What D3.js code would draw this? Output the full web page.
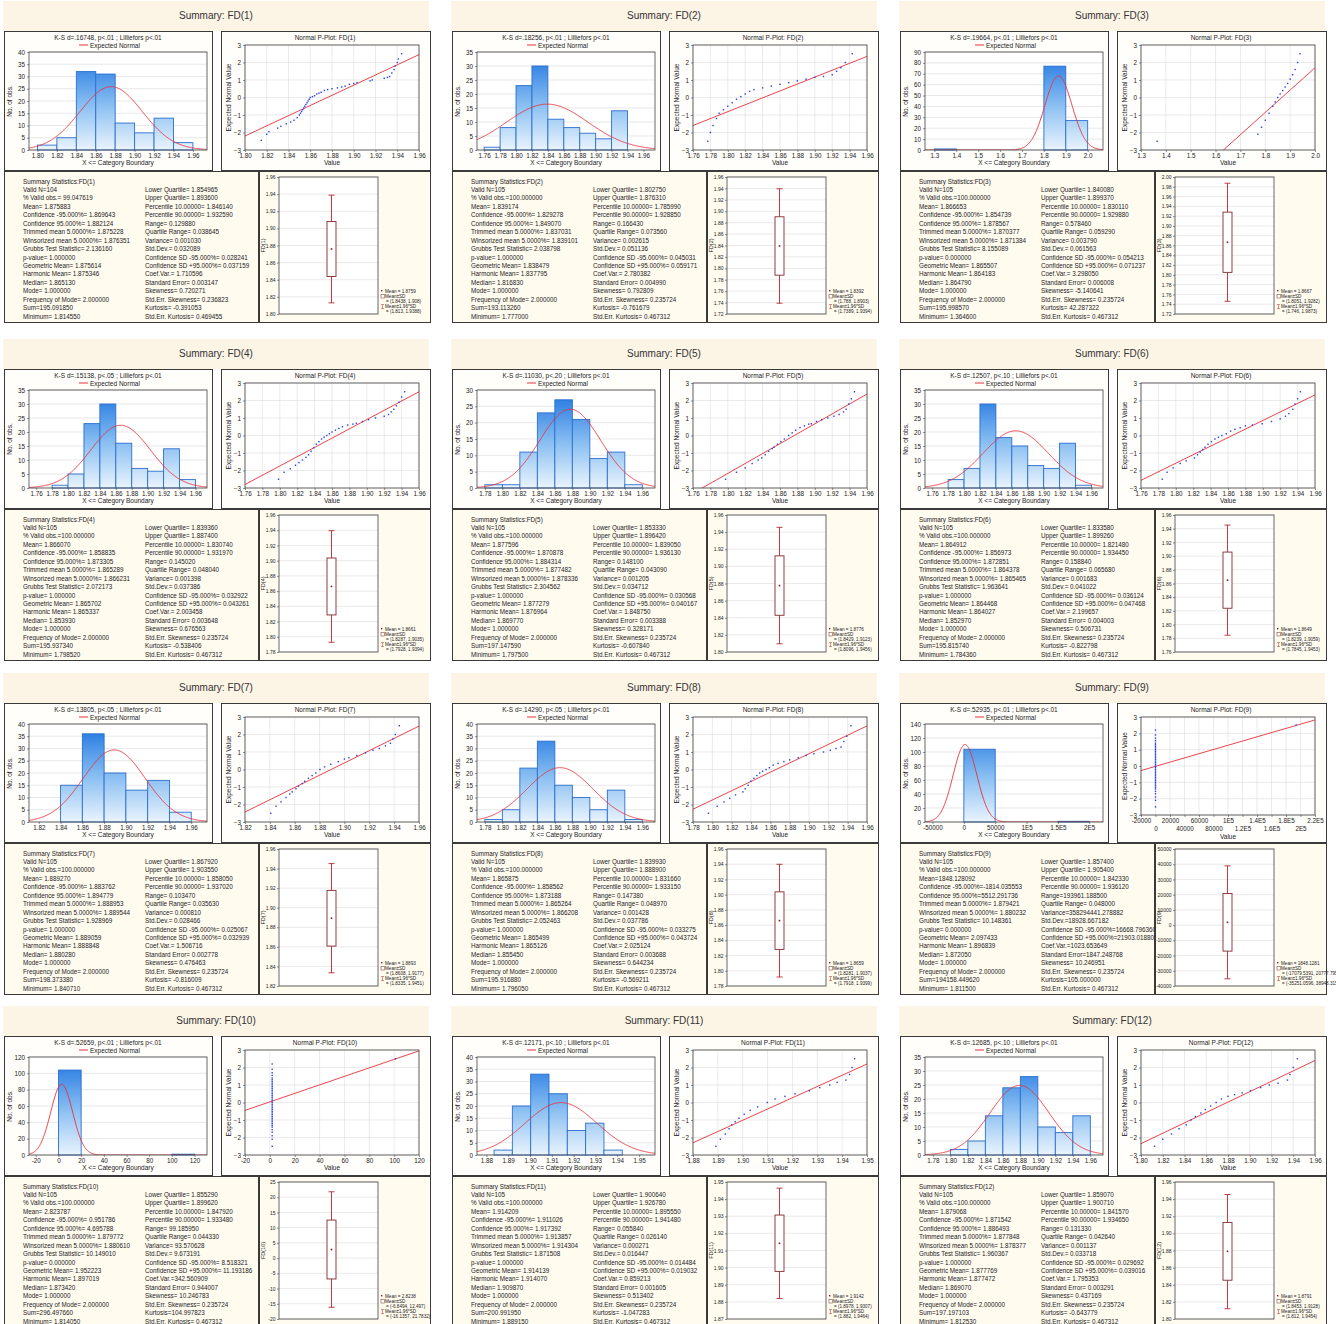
<!DOCTYPE html>
<html>
<head>
<meta charset="utf-8">
<script src="https://cdn.jsdelivr.net/npm/d3@7"></script>
<style>
body { margin: 0; background: #fff; }
svg { display: block; font-family: "Liberation Sans", Arial, sans-serif; }
.axis text { font-size: 6.3px; fill: #222; }
.axis line { stroke: #444; stroke-width: 0.6; }
.axis path { display: none; }
</style>
</head>
<body>
<svg id="chart" width="1336" height="1324"></svg>
<script>
// ---- data ----
const panelNames = ['FD(1)', 'FD(2)', 'FD(3)', 'FD(4)', 'FD(5)', 'FD(6)', 'FD(7)', 'FD(8)', 'FD(9)', 'FD(10)', 'FD(11)', 'FD(12)'];

const ksText = [
	'K-S d=.16748, p<.01 ; Lilliefors p<.01', 'K-S d=.18256, p<.01 ; Lilliefors p<.01', 'K-S d=.19664, p<.01 ; Lilliefors p<.01',
	'K-S d=.15138, p<.05 ; Lilliefors p<.01', 'K-S d=.11030, p<.20 ; Lilliefors p<.01', 'K-S d=.12507, p<.10 ; Lilliefors p<.01',
	'K-S d=.13805, p<.05 ; Lilliefors p<.01', 'K-S d=.14290, p<.05 ; Lilliefors p<.01', 'K-S d=.52935, p<.01 ; Lilliefors p<.01',
	'K-S d=.52659, p<.01 ; Lilliefors p<.01', 'K-S d=.12171, p<.10 ; Lilliefors p<.01', 'K-S d=.12685, p<.10 ; Lilliefors p<.01'
];

const dec2a = ['1.80', '1.82', '1.84', '1.86', '1.88', '1.90', '1.92', '1.94', '1.96'];
const dec2b = ['1.76', '1.78'].concat(dec2a);
const dec2c = ['1.78'].concat(dec2a);

const histXTicks = [
	dec2a, dec2b, ['1.3', '1.4', '1.5', '1.6', '1.7', '1.8', '1.9', '2.0'],
	dec2b, dec2c, dec2b,
	['1.82', '1.84', '1.86', '1.88', '1.90', '1.92', '1.94', '1.96'], dec2c, ['-50000', '0', '50000', '1E5', '1.5E5', '2E5'],
	['-20', '0', '20', '40', '60', '80', '100', '120'], ['1.88', '1.89', '1.90', '1.91', '1.92', '1.93', '1.94', '1.95'], dec2c
];
const histDomain = [
	[1.7913, 1.9745], [1.751, 1.9745], [1.257, 2.07],
	[1.751, 1.9745], [1.771, 1.9745], [1.751, 1.9745],
	[1.811, 1.9745], [1.771, 1.9745], [-62000, 222000],
	[-26, 131], [1.8757, 1.9573], [1.771, 1.9745]
];
const histYMax = [40, 35, 90, 35, 30, 35, 40, 40, 140, 120, 40, 35];
const histYStep = [5, 5, 10, 5, 5, 5, 5, 5, 20, 20, 5, 5];
const binStart = [1.80, 1.76, 1.3, 1.78, 1.78, 1.78, 1.84, 1.78, 0, 0, 1.8835, 1.80];
const binWidth = [0.02, 0.02, 0.1, 0.02, 0.02, 0.02, 0.02, 0.02, 50000, 20, 0.0084, 0.02];
const binCounts = [
	[2, 5, 32, 31, 11, 7, 13, 3],
	[1, 8, 23, 30, 11, 8, 6, 4, 14],
	[1, 0, 0, 0, 0, 77, 27],
	[1, 5, 23, 30, 16, 7, 6, 14, 3],
	[1, 1, 11, 23, 27, 21, 9, 11, 1],
	[3, 7, 30, 18, 15, 8, 7, 16, 1],
	[15, 36, 20, 13, 17, 4],
	[1, 5, 22, 33, 15, 10, 5, 13, 1],
	[104, 0, 0, 1],
	[104, 0, 0, 0, 0, 1],
	[2, 20, 33, 25, 10, 13, 2],
	[2, 5, 14, 24, 28, 10, 8, 14]
];

const ppXTicks = [
	dec2a, dec2b, ['1.3', '1.4', '1.5', '1.6', '1.7', '1.8', '1.9', '2.0'],
	dec2b, dec2b, dec2b,
	['1.82', '1.84', '1.86', '1.88', '1.90', '1.92', '1.94', '1.96'], dec2c,
	['-20000', '0', '20000', '40000', '60000', '80000', '1E5', '1.2E5', '1.4E5', '1.6E5', '1.8E5', '2E5', '2.2E5'],
	['-20', '0', '20', '40', '60', '80', '100', '120'], ['1.88', '1.89', '1.90', '1.91', '1.92', '1.93', '1.94', '1.95'], dec2a
];
const ppLine = [
	[1.80, -2.2, 1.96, 2.45], [1.76, -1.6, 1.96, 2.35], [1.60, -3.4, 2.0, 1.7],
	[1.76, -2.8, 1.96, 2.5], [1.76, -3.3, 1.96, 2.37], [1.76, -2.56, 1.96, 2.32],
	[1.82, -2.43, 1.96, 2.48], [1.78, -2.27, 1.96, 2.49], [-20000, -0.28, 220000, 2.82],
	[-20, -0.45, 120, 2.95], [1.88, -2.3, 1.95, 2.2], [1.80, -2.35, 1.96, 2.4]
];
const clusterZ = [-2.5, -2.1, -1.9, -1.7, -1.55, -1.4, -1.3, -1.2, -1.1, -1.0, -0.9, -0.8, -0.7, -0.6, -0.5, -0.4, -0.3, -0.2, -0.1, 0,
	0.1, 0.2, 0.3, 0.4, 0.5, 0.6, 0.7, 0.8, 0.9, 1.0, 1.1, 1.2, 1.3, 1.4, 1.55, 1.7, 1.9, 2.2];
const ppPoints = [
	[[1.815, -2.45], [1.82, -2.1], [1.822, -1.95], [1.83, -1.75], [1.833, -1.65], [1.838, -1.5], [1.842, -1.4], [1.845, -1.3], [1.848, -1.15], [1.85, -1.0], [1.851, -0.9], [1.852, -0.8], [1.853, -0.7], [1.854, -0.6], [1.855, -0.5], [1.856, -0.4], [1.857, -0.3], [1.858, -0.2], [1.859, -0.1], [1.86, 0], [1.862, 0.05], [1.864, 0.1], [1.866, 0.2], [1.868, 0.25], [1.87, 0.3], [1.873, 0.4], [1.876, 0.45], [1.88, 0.5], [1.885, 0.55], [1.889, 0.6], [1.892, 0.65], [1.896, 0.75], [1.9, 0.8], [1.903, 0.85], [1.915, 0.95], [1.917, 1.0], [1.928, 1.1], [1.931, 1.15], [1.933, 1.2], [1.935, 1.4], [1.937, 1.6], [1.938, 1.8], [1.94, 2.0], [1.941, 2.2], [1.944, 2.5]],
	[[1.777, -2.5], [1.78, -2.0], [1.783, -1.6], [1.787, -1.2], [1.79, -0.9], [1.795, -0.7], [1.8, -0.5], [1.805, -0.3], [1.81, -0.1], [1.815, 0.05], [1.82, 0.2], [1.825, 0.35], [1.83, 0.45], [1.84, 0.55], [1.85, 0.65], [1.86, 0.75], [1.87, 0.85], [1.88, 0.95], [1.89, 1.05], [1.9, 1.15], [1.91, 1.2], [1.92, 1.3], [1.925, 1.5], [1.93, 1.7], [1.935, 2.0], [1.943, 2.5]],
	[[1.365, -2.5], [1.77, -2.1], [1.785, -1.7], [1.8, -1.3], [1.815, -0.9], [1.83, -0.5], [1.84, -0.25], [1.85, 0], [1.86, 0.2], [1.87, 0.4], [1.88, 0.6], [1.89, 0.8], [1.9, 1.05], [1.91, 1.3], [1.92, 1.6], [1.93, 2.0], [1.94, 2.5]],
	[[1.7985, -2.5], [1.805, -2.1], [1.812, -1.9], [1.818, -1.7], [1.822, -1.55], [1.826, -1.4], [1.83, -1.25], [1.833, -1.1], [1.836, -0.9], [1.839, -0.7], [1.842, -0.5], [1.845, -0.35], [1.848, -0.2], [1.851, -0.1], [1.854, 0], [1.857, 0.1], [1.86, 0.2], [1.864, 0.3], [1.868, 0.4], [1.872, 0.5], [1.878, 0.6], [1.884, 0.65], [1.888, 0.7], [1.895, 0.8], [1.902, 0.9], [1.91, 1.0], [1.92, 1.1], [1.925, 1.2], [1.928, 1.35], [1.931, 1.5], [1.934, 1.7], [1.937, 1.9], [1.94, 2.2], [1.9435, 2.5]],
	[[1.7975, -2.5], [1.81, -2.1], [1.82, -1.85], [1.828, -1.6], [1.835, -1.4], [1.839, -1.28], [1.843, -1.1], [1.847, -0.9], [1.851, -0.75], [1.853, -0.67], [1.857, -0.5], [1.861, -0.35], [1.865, -0.2], [1.87, 0], [1.874, 0.15], [1.878, 0.3], [1.883, 0.45], [1.888, 0.55], [1.893, 0.65], [1.896, 0.67], [1.902, 0.8], [1.908, 0.9], [1.915, 1.0], [1.922, 1.1], [1.928, 1.2], [1.933, 1.35], [1.936, 1.5], [1.939, 1.8], [1.942, 2.1], [1.9456, 2.5]],
	[[1.7844, -2.5], [1.79, -2.1], [1.797, -1.85], [1.805, -1.6], [1.812, -1.45], [1.8215, -1.28], [1.825, -1.1], [1.828, -0.95], [1.831, -0.8], [1.8336, -0.67], [1.837, -0.5], [1.841, -0.35], [1.845, -0.2], [1.849, -0.1], [1.853, 0], [1.858, 0.1], [1.863, 0.25], [1.868, 0.35], [1.874, 0.45], [1.88, 0.55], [1.888, 0.6], [1.8993, 0.67], [1.91, 0.8], [1.92, 0.95], [1.926, 1.1], [1.93, 1.25], [1.9345, 1.5], [1.937, 1.8], [1.94, 2.1], [1.9432, 2.5]],
	[[1.8407, -2.5], [1.845, -2.1], [1.849, -1.85], [1.853, -1.6], [1.856, -1.4], [1.858, -1.28], [1.861, -1.1], [1.863, -0.95], [1.866, -0.8], [1.868, -0.67], [1.871, -0.5], [1.874, -0.35], [1.877, -0.2], [1.8803, 0], [1.884, 0.15], [1.889, 0.3], [1.895, 0.45], [1.9, 0.6], [1.9036, 0.67], [1.91, 0.8], [1.917, 0.95], [1.923, 1.1], [1.928, 1.2], [1.933, 1.35], [1.937, 1.5], [1.939, 1.75], [1.941, 2.0], [1.9442, 2.5]],
	[[1.796, -2.5], [1.805, -2.1], [1.812, -1.85], [1.818, -1.65], [1.824, -1.45], [1.8317, -1.28], [1.834, -1.1], [1.837, -0.9], [1.8399, -0.67], [1.843, -0.5], [1.846, -0.35], [1.849, -0.2], [1.852, -0.1], [1.8555, 0], [1.859, 0.1], [1.863, 0.25], [1.868, 0.35], [1.874, 0.45], [1.88, 0.55], [1.8889, 0.67], [1.897, 0.8], [1.905, 0.9], [1.915, 1.0], [1.922, 1.1], [1.928, 1.2], [1.9332, 1.28], [1.936, 1.6], [1.939, 1.9], [1.9434, 2.5]],
	clusterZ.map(z => [1.87, z]).concat([[193963, 2.5]]),
	clusterZ.map(z => [1.87, z]).concat([[101.0, 2.5]]),
	[[1.8892, -2.5], [1.891, -2.1], [1.893, -1.8], [1.8945, -1.5], [1.8956, -1.28], [1.897, -1.1], [1.8985, -0.9], [1.9006, -0.67], [1.903, -0.45], [1.906, -0.25], [1.9099, 0], [1.913, 0.2], [1.917, 0.35], [1.921, 0.5], [1.9268, 0.67], [1.931, 0.85], [1.935, 1.0], [1.938, 1.15], [1.9415, 1.28], [1.943, 1.6], [1.944, 2.0], [1.945, 2.5]],
	[[1.8125, -2.5], [1.82, -2.1], [1.828, -1.8], [1.835, -1.5], [1.8416, -1.28], [1.846, -1.0], [1.85, -0.8], [1.855, -0.6], [1.8591, -0.4], [1.864, -0.2], [1.8691, 0], [1.874, 0.2], [1.88, 0.35], [1.886, 0.45], [1.893, 0.55], [1.9007, 0.67], [1.91, 0.85], [1.918, 1.0], [1.926, 1.1], [1.9347, 1.28], [1.937, 1.6], [1.94, 2.0], [1.9438, 2.5]]
];

const boxYTicks = [
	['1.80', '1.82', '1.84', '1.86', '1.88', '1.90', '1.92', '1.94', '1.96'],
	['1.72', '1.74', '1.76', '1.78', '1.80', '1.82', '1.84', '1.86', '1.88', '1.90', '1.92', '1.94', '1.96'],
	['1.72', '1.74', '1.76', '1.78', '1.80', '1.82', '1.84', '1.86', '1.88', '1.90', '1.92', '1.94', '1.96', '1.98', '2.00'],
	['1.78', '1.80', '1.82', '1.84', '1.86', '1.88', '1.90', '1.92', '1.94', '1.96'],
	['1.80', '1.82', '1.84', '1.86', '1.88', '1.90', '1.92', '1.94', '1.96'],
	['1.76', '1.78', '1.80', '1.82', '1.84', '1.86', '1.88', '1.90', '1.92', '1.94', '1.96'],
	['1.82', '1.84', '1.86', '1.88', '1.90', '1.92', '1.94', '1.96'],
	['1.78', '1.80', '1.82', '1.84', '1.86', '1.88', '1.90', '1.92', '1.94', '1.96'],
	['-40000', '-30000', '-20000', '-10000', '0', '10000', '20000', '30000', '40000', '50000'],
	['-20', '-15', '-10', '-5', '0', '5', '10', '15', '20', '25'],
	['1.87', '1.88', '1.89', '1.90', '1.91', '1.92', '1.93', '1.94', '1.95'],
	['1.80', '1.82', '1.84', '1.86', '1.88', '1.90', '1.92', '1.94', '1.96']
];
const boxMean = ['1.8759', '1.8392', '1.8667', '1.8661', '1.8776', '1.8649', '1.8893', '1.8659', '1848.1281', '2.8238', '1.9142', '1.8791'];
const boxSD = [
	['1.8438', '1.908'], ['1.788', '1.8903'], ['1.8051', '1.9282'], ['1.8287', '1.9035'], ['1.8429', '1.9123'], ['1.8239', '1.9059'],
	['1.8608', '1.9177'], ['1.8281', '1.9037'], ['-17079.5391', '20777.7953'], ['-6.8494', '12.497'], ['1.8978', '1.9307'], ['1.8453', '1.9128']
];
const boxCI = [
	['1.813', '1.9388'], ['1.7389', '1.9394'], ['1.746', '1.9873'], ['1.7928', '1.9394'], ['1.8096', '1.9456'], ['1.7845', '1.9453'],
	['1.8335', '1.9451'], ['1.7918', '1.9399'], ['-35251.0596', '38948.3158'], ['-16.1357', '21.7832'], ['1.882', '1.9464'], ['1.812', '1.9454']
];

const statLeftLabels = ['Valid N=', '% Valid obs.=', 'Mean=', 'Confidence -95.000%=', 'Confidence 95.000%=', 'Trimmed mean 5.0000%=',
	'Winsorized mean 5.0000%=', 'Grubbs Test Statistic=', 'p-value=', 'Geometric Mean=', 'Harmonic Mean=', 'Median=', 'Mode=',
	'Frequency of Mode=', 'Sum=', 'Minimum='];
const statRightLabels = ['Lower Quartile=', 'Upper Quartile=', 'Percentile 10.00000=', 'Percentile 90.00000=', 'Range=', 'Quartile Range=',
	'Variance=', 'Std.Dev.=', 'Confidence SD -95.000%=', 'Confidence SD +95.000%=', 'Coef.Var.=', 'Standard Error=', 'Skewness=',
	'Std.Err. Skewness=', 'Kurtosis=', 'Std.Err. Kurtosis='];
const statLeftValues = [
	['104', ' 99.047619', ' 1.875883', ' 1.869643', ' 1.882124', ' 1.875228', ' 1.876351', ' 2.136160', ' 1.000000', ' 1.875614', ' 1.875346', ' 1.865130', ' 1.000000', ' 2.000000', '195.091850', ' 1.814550'],
	['105', '100.000000', ' 1.839174', ' 1.829278', ' 1.849070', ' 1.837031', ' 1.839101', ' 2.038798', ' 1.000000', ' 1.838479', ' 1.837795', ' 1.816830', ' 1.000000', ' 2.000000', '193.113260', ' 1.777000'],
	['105', '100.000000', ' 1.866653', ' 1.854739', ' 1.878567', ' 1.870377', ' 1.871384', ' 8.155089', ' 0.000000', ' 1.865507', ' 1.864183', ' 1.864790', ' 1.000000', ' 2.000000', '195.998570', ' 1.364600'],
	['105', '100.000000', ' 1.866070', ' 1.858835', ' 1.873305', ' 1.865289', ' 1.866231', ' 2.072173', ' 1.000000', ' 1.865702', ' 1.865337', ' 1.853930', ' 1.000000', ' 2.000000', '195.937340', ' 1.798520'],
	['105', '100.000000', ' 1.877596', ' 1.870878', ' 1.884314', ' 1.877482', ' 1.878336', ' 2.304562', ' 1.000000', ' 1.877279', ' 1.876964', ' 1.869770', ' 1.000000', ' 2.000000', '197.147590', ' 1.797500'],
	['105', '100.000000', ' 1.864912', ' 1.856973', ' 1.872851', ' 1.864378', ' 1.865465', ' 1.963641', ' 1.000000', ' 1.864468', ' 1.864027', ' 1.852970', ' 1.000000', ' 2.000000', '195.815740', ' 1.784360'],
	['105', '100.000000', ' 1.889270', ' 1.883762', ' 1.894779', ' 1.888953', ' 1.889544', ' 1.928969', ' 1.000000', ' 1.889059', ' 1.888848', ' 1.880280', ' 1.000000', ' 2.000000', '198.373380', ' 1.840710'],
	['105', '100.000000', ' 1.865875', ' 1.858562', ' 1.873188', ' 1.865264', ' 1.866208', ' 2.052463', ' 1.000000', ' 1.865499', ' 1.865126', ' 1.855450', ' 1.000000', ' 2.000000', '195.916880', ' 1.796050'],
	['105', '100.000000', '1848.128092', '-1814.035553', '5512.291736', ' 1.879421', ' 1.880232', ' 10.148361', ' 0.000000', ' 2.097433', ' 1.896839', ' 1.872050', ' 1.000000', ' 2.000000', '194158.449620', ' 1.811500'],
	['105', '100.000000', ' 2.823787', ' 0.951786', ' 4.695788', ' 1.879772', ' 1.880610', ' 10.149010', ' 0.000000', ' 1.952223', ' 1.897019', ' 1.873420', ' 1.000000', ' 2.000000', '296.497660', ' 1.814050'],
	['105', '100.000000', ' 1.914209', ' 1.911026', ' 1.917392', ' 1.913857', ' 1.914304', ' 1.871508', ' 1.000000', ' 1.914139', ' 1.914070', ' 1.909870', ' 1.000000', ' 2.000000', '200.991950', ' 1.889150'],
	['105', '100.000000', ' 1.879068', ' 1.871542', ' 1.886493', ' 1.877848', ' 1.878377', ' 1.960367', ' 1.000000', ' 1.877769', ' 1.877472', ' 1.869070', ' 1.000000', ' 2.000000', '197.197103', ' 1.812530']
];
const statRightValues = [
	[' 1.854965', ' 1.893600', ' 1.846140', ' 1.932590', ' 0.129880', ' 0.038645', ' 0.001030', ' 0.032089', ' 0.028241', ' 0.037159', ' 1.710596', ' 0.003147', ' 0.720271', ' 0.236823', ' -0.391053', ' 0.469455'],
	[' 1.802750', ' 1.876310', ' 1.785990', ' 1.928850', ' 0.166430', ' 0.073560', ' 0.002615', ' 0.051136', ' 0.045031', ' 0.059171', ' 2.780382', ' 0.004990', ' 0.792809', ' 0.235724', ' -0.761679', ' 0.467312'],
	[' 1.840080', ' 1.899370', ' 1.830110', ' 1.929880', ' 0.578460', ' 0.059290', ' 0.003790', ' 0.061563', ' 0.054213', ' 0.071237', ' 3.298050', ' 0.006008', ' -5.140641', ' 0.235724', ' 42.287322', ' 0.467312'],
	[' 1.839360', ' 1.887400', ' 1.830740', ' 1.931970', ' 0.145020', ' 0.048040', ' 0.001398', ' 0.037386', ' 0.032922', ' 0.043261', ' 2.003458', ' 0.003648', ' 0.676563', ' 0.235724', ' -0.538406', ' 0.467312'],
	[' 1.853330', ' 1.896420', ' 1.839050', ' 1.936130', ' 0.148100', ' 0.043090', ' 0.001205', ' 0.034712', ' 0.030568', ' 0.040167', ' 1.848750', ' 0.003388', ' 0.328171', ' 0.235724', ' -0.607840', ' 0.467312'],
	[' 1.833580', ' 1.899260', ' 1.821480', ' 1.934450', ' 0.158840', ' 0.065680', ' 0.001683', ' 0.041022', ' 0.036124', ' 0.047468', ' 2.199657', ' 0.004003', ' 0.506731', ' 0.235724', ' -0.822798', ' 0.467312'],
	[' 1.867920', ' 1.903550', ' 1.858050', ' 1.937020', ' 0.103470', ' 0.035630', ' 0.000810', ' 0.028466', ' 0.025067', ' 0.032939', ' 1.506716', ' 0.002778', ' 0.476463', ' 0.235724', ' -0.816009', ' 0.467312'],
	[' 1.839930', ' 1.888900', ' 1.831660', ' 1.933150', ' 0.147380', ' 0.048970', ' 0.001428', ' 0.037786', ' 0.033275', ' 0.043724', ' 2.025124', ' 0.003688', ' 0.644234', ' 0.235724', ' -0.569211', ' 0.467312'],
	[' 1.857400', ' 1.905400', ' 1.842330', ' 1.936120', '193961.188500', ' 0.048000', '358294441.278882', '18928.667182', '16668.796360', '21903.018800', '1023.653649', '1847.248768', ' 10.246951', ' 0.235724', '105.000000', ' 0.467312'],
	[' 1.855290', ' 1.899620', ' 1.847920', ' 1.933480', ' 99.185950', ' 0.044330', ' 93.570628', ' 9.673191', ' 8.518321', ' 11.193186', '342.560909', ' 0.944007', ' 10.246783', ' 0.235724', '104.997823', ' 0.467312'],
	[' 1.900640', ' 1.926780', ' 1.895550', ' 1.941480', ' 0.055840', ' 0.026140', ' 0.000271', ' 0.016447', ' 0.014484', ' 0.019032', ' 0.859213', ' 0.001605', ' 0.513402', ' 0.235724', ' -1.047283', ' 0.467312'],
	[' 1.859070', ' 1.900710', ' 1.841570', ' 1.934650', ' 0.131330', ' 0.042640', ' 0.001137', ' 0.033718', ' 0.029692', ' 0.039016', ' 1.795353', ' 0.003291', ' 0.437169', ' 0.235724', ' -0.643779', ' 0.467312']
];

// ---- layout ----
const colX = [0, 448, 896],
	rowY = [0, 338, 672, 1005];

const hist = { L: 29, R: 207, T: 52, B: 150 },
	pp = { L: 245, R: 419, T: 45, B: 150 },
	bx = { L: 279, R: 378, T: 177, B: 314 };

const svg = d3.select('#chart');
const defs = svg.append('defs');

const grad = defs.append('linearGradient')
	.attr('id', 'barFill')
	.attr('gradientUnits', 'userSpaceOnUse')
	.attr('x1', 0).attr('y1', hist.T)
	.attr('x2', 0).attr('y2', hist.B);
grad.append('stop').attr('offset', '0%').attr('stop-color', '#1a72e0');
grad.append('stop').attr('offset', '55%').attr('stop-color', '#8cc0f2');
grad.append('stop').attr('offset', '100%').attr('stop-color', '#eaf4fd');

defs.append('clipPath').attr('id', 'histClip').append('rect')
	.attr('x', hist.L).attr('y', hist.T).attr('width', hist.R - hist.L).attr('height', hist.B - hist.T);
defs.append('clipPath').attr('id', 'statClip').append('rect')
	.attr('x', 4).attr('y', 171).attr('width', 254).attr('height', 151);

function frame(g, x, y, w, h, fill) {
	g.append('rect')
		.attr('x', x + 0.5).attr('y', y + 0.5)
		.attr('width', w).attr('height', h)
		.attr('fill', fill)
		.attr('stroke', '#3a3a3a')
		.attr('stroke-width', 1);
}

function drawTitle(g, i) {
	g.append('rect')
		.attr('x', 3).attr('y', 1)
		.attr('width', 426).attr('height', 30)
		.attr('fill', '#fcf5e6');
	g.append('text')
		.attr('x', 216).attr('y', 19)
		.attr('text-anchor', 'middle')
		.attr('font-size', 10)
		.attr('fill', '#333')
		.text('Summary: ' + panelNames[i]);
}

function drawHist(g, i) {
	frame(g, 4, 31, 208, 139, '#fffefb');

	const x = d3.scaleLinear().domain(histDomain[i]).range([hist.L, hist.R]),
		y = d3.scaleLinear().domain([0, histYMax[i]]).range([hist.B, hist.T]);

	g.append('rect')
		.attr('x', hist.L).attr('y', hist.T)
		.attr('width', hist.R - hist.L).attr('height', hist.B - hist.T)
		.attr('fill', '#fff');

	const yVals = d3.range(0, histYMax[i] / histYStep[i] + 1).map(k => k * histYStep[i]);
	g.append('g')
		.selectAll('line')
		.data(yVals)
		.join('line')
		.attr('x1', hist.L).attr('x2', hist.R)
		.attr('y1', d => y(d)).attr('y2', d => y(d))
		.attr('stroke', '#d8d8d8')
		.attr('stroke-width', 0.6);

	const bins = binCounts[i].map((c, k) => ({
		x0: binStart[i] + k * binWidth[i],
		x1: binStart[i] + (k + 1) * binWidth[i],
		c: c
	})).filter(d => d.c > 0);

	g.append('g')
		.selectAll('rect')
		.data(bins)
		.join('rect')
		.attr('x', d => x(d.x0))
		.attr('y', d => y(d.c))
		.attr('width', d => x(d.x1) - x(d.x0))
		.attr('height', d => y(0) - y(d.c))
		.attr('fill', 'url(#barFill)')
		.attr('stroke', '#2c6fcf')
		.attr('stroke-width', 0.9);

	// expected normal
	const mu = +statLeftValues[i][2],
		sd = +statRightValues[i][7],
		n = +statLeftValues[i][0];
	const d0 = histDomain[i][0],
		d1 = histDomain[i][1];
	const curve = d3.range(0, 301).map(k => {
		const v = d0 + (d1 - d0) * k / 300;
		return [v, n * binWidth[i] * Math.exp(-0.5 * Math.pow((v - mu) / sd, 2)) / (sd * Math.sqrt(2 * Math.PI))];
	});
	g.append('path')
		.datum(curve)
		.attr('clip-path', 'url(#histClip)')
		.attr('d', d3.line().x(d => x(d[0])).y(d => y(d[1])))
		.attr('fill', 'none')
		.attr('stroke', '#e8303a')
		.attr('stroke-width', 0.9);

	g.append('rect')
		.attr('x', hist.L).attr('y', hist.T)
		.attr('width', hist.R - hist.L).attr('height', hist.B - hist.T)
		.attr('fill', 'none').attr('stroke', '#444').attr('stroke-width', 0.8);

	const xt = histXTicks[i];
	g.append('g')
		.attr('class', 'axis')
		.attr('transform', `translate(0,${hist.B})`)
		.call(d3.axisBottom(x).tickValues(xt.map(Number)).tickFormat((d, k) => xt[k]).tickSize(2).tickPadding(2));
	g.append('g')
		.attr('class', 'axis')
		.attr('transform', `translate(${hist.L},0)`)
		.call(d3.axisLeft(y).tickValues(yVals).tickSize(2).tickPadding(2));

	g.append('text')
		.attr('x', 108).attr('y', 40)
		.attr('text-anchor', 'middle')
		.attr('font-size', 6.5).attr('fill', '#222')
		.text(ksText[i]);
	g.append('line')
		.attr('x1', 79).attr('x2', 88)
		.attr('y1', 45).attr('y2', 45)
		.attr('stroke', '#e8303a').attr('stroke-width', 1);
	g.append('text')
		.attr('x', 90).attr('y', 47.5)
		.attr('font-size', 6.5).attr('fill', '#222')
		.text('Expected Normal');
	g.append('text')
		.attr('x', 118).attr('y', 165)
		.attr('text-anchor', 'middle')
		.attr('font-size', 6.5).attr('fill', '#222')
		.text('X <= Category Boundary');
	g.append('text')
		.attr('transform', `translate(12,${(hist.T + hist.B) / 2}) rotate(-90)`)
		.attr('text-anchor', 'middle')
		.attr('font-size', 6.5).attr('fill', '#222')
		.text('No. of obs.');
}

function drawPP(g, i) {
	frame(g, 221, 31, 209, 139, '#fffefb');

	const xt = ppXTicks[i];
	const stagger = xt.length > 11;
	const B = stagger ? 143 : pp.B;
	const x = d3.scaleLinear().domain([+xt[0], +xt[xt.length - 1]]).range([pp.L, pp.R]),
		y = d3.scaleLinear().domain([-3, 3]).range([B, pp.T]);

	const clipId = 'ppClip' + i;
	g.append('clipPath').attr('id', clipId).append('rect')
		.attr('x', pp.L).attr('y', pp.T).attr('width', pp.R - pp.L).attr('height', B - pp.T);

	g.append('rect')
		.attr('x', pp.L).attr('y', pp.T)
		.attr('width', pp.R - pp.L).attr('height', B - pp.T)
		.attr('fill', '#fff');

	const grid = g.append('g').attr('stroke', '#dcdcdc').attr('stroke-width', 0.6);
	grid.selectAll('.gy')
		.data(d3.range(-3, 4))
		.join('line')
		.attr('x1', pp.L).attr('x2', pp.R)
		.attr('y1', d => y(d)).attr('y2', d => y(d));
	grid.selectAll('.gx')
		.data(xt.map(Number))
		.join('line')
		.attr('y1', pp.T).attr('y2', B)
		.attr('x1', d => x(d)).attr('x2', d => x(d));

	const ln = ppLine[i];
	g.append('line')
		.attr('clip-path', `url(#${clipId})`)
		.attr('x1', x(ln[0])).attr('y1', y(ln[1]))
		.attr('x2', x(ln[2])).attr('y2', y(ln[3]))
		.attr('stroke', '#e8303a')
		.attr('stroke-width', 0.9);

	g.append('g')
		.selectAll('rect')
		.data(ppPoints[i])
		.join('rect')
		.attr('x', d => x(d[0]) - 0.7)
		.attr('y', d => y(d[1]) - 0.7)
		.attr('width', 1.4).attr('height', 1.4)
		.attr('fill', '#2a3fe0');

	g.append('rect')
		.attr('x', pp.L).attr('y', pp.T)
		.attr('width', pp.R - pp.L).attr('height', B - pp.T)
		.attr('fill', 'none').attr('stroke', '#444').attr('stroke-width', 0.8);

	const xAxis = g.append('g')
		.attr('class', 'axis')
		.attr('transform', `translate(0,${B})`)
		.call(d3.axisBottom(x).tickValues(xt.map(Number)).tickFormat((d, k) => xt[k]).tickSize(2).tickPadding(2));
	if (stagger) {
		xAxis.selectAll('.tick text')
			.attr('dy', (d, k) => k % 2 ? '1.9em' : '0.71em');
	}
	g.append('g')
		.attr('class', 'axis')
		.attr('transform', `translate(${pp.L},0)`)
		.call(d3.axisLeft(y).ticks(7).tickSize(2).tickPadding(2));

	g.append('text')
		.attr('x', 325).attr('y', 40)
		.attr('text-anchor', 'middle')
		.attr('font-size', 6.5).attr('fill', '#222')
		.text('Normal P-Plot: ' + panelNames[i]);
	g.append('text')
		.attr('x', 332).attr('y', stagger ? 167 : 165)
		.attr('text-anchor', 'middle')
		.attr('font-size', 6.5).attr('fill', '#222')
		.text('Value');
	g.append('text')
		.attr('transform', `translate(231,${(pp.T + B) / 2}) rotate(-90)`)
		.attr('text-anchor', 'middle')
		.attr('font-size', 6.5).attr('fill', '#222')
		.text('Expected Normal Value');
}

function drawStats(g, i) {
	frame(g, 4, 171, 254, 151, '#fffbef');
	const t = g.append('g')
		.attr('clip-path', 'url(#statClip)')
		.attr('font-size', 6.3)
		.attr('fill', '#222');
	const lineH = 8.45,
		top = 183.5;
	t.append('text')
		.attr('x', 23).attr('y', top)
		.text('Summary Statistics:' + panelNames[i]);
	t.selectAll('.sl')
		.data(statLeftLabels)
		.join('text')
		.attr('x', 23)
		.attr('y', (d, k) => top + (k + 1) * lineH)
		.attr('xml:space', 'preserve')
		.text((d, k) => d + statLeftValues[i][k]);
	t.selectAll('.sr')
		.data(statRightLabels)
		.join('text')
		.attr('x', 145)
		.attr('y', (d, k) => top + (k + 1) * lineH)
		.attr('xml:space', 'preserve')
		.text((d, k) => d + statRightValues[i][k]);
}

function drawBox(g, i) {
	frame(g, 259, 171, 171, 151, '#fffbef');

	const yt = boxYTicks[i];
	const y = d3.scaleLinear().domain([+yt[0], +yt[yt.length - 1]]).range([bx.B, bx.T]);

	g.append('rect')
		.attr('x', bx.L).attr('y', bx.T)
		.attr('width', bx.R - bx.L).attr('height', bx.B - bx.T)
		.attr('fill', '#fff');
	g.append('g')
		.selectAll('line')
		.data(yt.map(Number))
		.join('line')
		.attr('x1', bx.L).attr('x2', bx.R)
		.attr('y1', d => y(d)).attr('y2', d => y(d))
		.attr('stroke', '#dcdcdc').attr('stroke-width', 0.6);

	const cx = 331.5;
	const m = +boxMean[i],
		s = boxSD[i].map(Number),
		c = boxCI[i].map(Number);

	const wh = g.append('g').attr('stroke', '#b8282e').attr('stroke-width', 0.9);
	wh.append('line').attr('x1', cx).attr('x2', cx).attr('y1', y(c[1])).attr('y2', y(s[1]));
	wh.append('line').attr('x1', cx).attr('x2', cx).attr('y1', y(s[0])).attr('y2', y(c[0]));
	wh.append('line').attr('x1', cx - 3).attr('x2', cx + 3).attr('y1', y(c[1])).attr('y2', y(c[1]));
	wh.append('line').attr('x1', cx - 3).attr('x2', cx + 3).attr('y1', y(c[0])).attr('y2', y(c[0]));

	g.append('rect')
		.attr('x', cx - 4.5).attr('y', y(s[1]))
		.attr('width', 9).attr('height', y(s[0]) - y(s[1]))
		.attr('fill', '#fff')
		.attr('stroke', '#7e2a30').attr('stroke-width', 0.9);
	g.append('rect')
		.attr('x', cx - 0.8).attr('y', y(m) - 0.8)
		.attr('width', 1.6).attr('height', 1.6)
		.attr('fill', '#8a1a20');

	g.append('rect')
		.attr('x', bx.L).attr('y', bx.T)
		.attr('width', bx.R - bx.L).attr('height', bx.B - bx.T)
		.attr('fill', 'none').attr('stroke', '#444').attr('stroke-width', 0.8);

	g.append('g')
		.attr('class', 'axis')
		.attr('transform', `translate(${bx.L},0)`)
		.call(d3.axisLeft(y).tickValues(yt.map(Number)).tickFormat((d, k) => yt[k]).tickSize(2).tickPadding(1.5))
		.selectAll('text').style('font-size', '5px');

	g.append('text')
		.attr('transform', `translate(265,${(bx.T + bx.B) / 2}) rotate(-90)`)
		.attr('text-anchor', 'middle')
		.attr('font-size', 5.5).attr('fill', '#222')
		.text(panelNames[i]);

	// legend
	const lg = g.append('g').attr('font-size', 4.6).attr('fill', '#222');
	const lx = 381;
	lg.append('rect').attr('x', lx).attr('y', 290).attr('width', 1.4).attr('height', 1.4).attr('fill', '#8a1a20');
	lg.append('text').attr('x', lx + 4).attr('y', 292.5).text('Mean = ' + boxMean[i]);
	lg.append('rect').attr('x', lx).attr('y', 294.5).attr('width', 3.5).attr('height', 3.5)
		.attr('fill', '#fff').attr('stroke', '#7e2a30').attr('stroke-width', 0.5);
	lg.append('text').attr('x', lx + 4).attr('y', 297.5).text('Mean±SD');
	lg.append('text').attr('x', lx + 5).attr('y', 302.5).text('= (' + boxSD[i][0] + ', ' + boxSD[i][1] + ')');
	const iy = 304.5;
	lg.append('path')
		.attr('d', `M${lx},${iy}H${lx + 3}M${lx + 1.5},${iy}V${iy + 4}M${lx},${iy + 4}H${lx + 3}`)
		.attr('stroke', '#b8282e').attr('stroke-width', 0.5).attr('fill', 'none');
	lg.append('text').attr('x', lx + 4).attr('y', 308).text('Mean±1.96*SD');
	lg.append('text').attr('x', lx + 5).attr('y', 313).text('= (' + boxCI[i][0] + ', ' + boxCI[i][1] + ')');
}

panelNames.forEach((name, i) => {
	const g = svg.append('g')
		.attr('transform', `translate(${colX[i % 3]},${rowY[Math.floor(i / 3)]})`);
	drawTitle(g, i);
	drawHist(g, i);
	drawPP(g, i);
	drawStats(g, i);
	drawBox(g, i);
});
</script>
</body>
</html>
